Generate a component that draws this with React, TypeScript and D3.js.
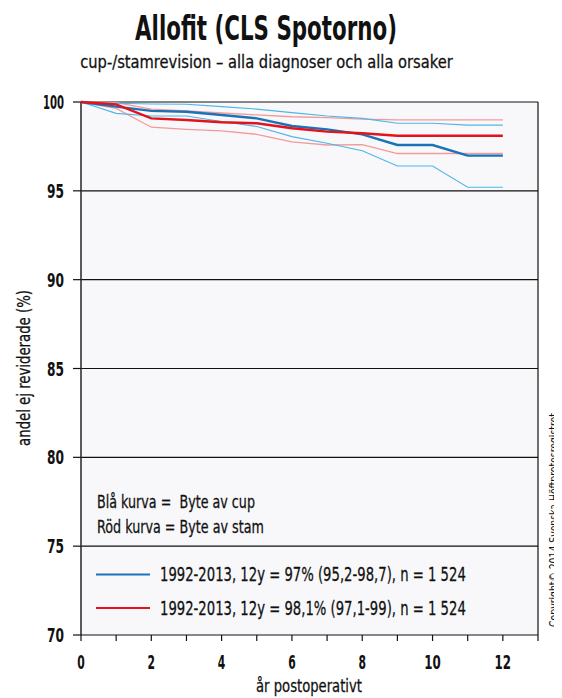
import React, { useEffect, useRef } from 'react';
import * as d3 from 'd3';

const years = [0, 1, 2, 3, 4, 5, 6, 7, 8, 9, 10, 11, 12];
const cupMain = [100, 99.74, 99.5, 99.45, 99.27, 99.08, 98.65, 98.46, 98.18, 97.58, 97.58, 96.98, 96.98];
const cupHigh = [100, 99.93, 99.89, 99.87, 99.74, 99.6, 99.4, 99.21, 99.08, 98.8, 98.8, 98.7, 98.7];
const cupLow = [100, 99.36, 99.21, 99.21, 98.9, 98.62, 98.05, 97.68, 97.26, 96.4, 96.4, 95.2, 95.2];
const stemMain = [100, 99.87, 99.08, 98.99, 98.86, 98.8, 98.52, 98.33, 98.24, 98.1, 98.1, 98.1, 98.1];
const stemHigh = [100, 99.97, 99.6, 99.5, 99.38, 99.27, 99.17, 99.12, 99.04, 98.99, 98.99, 98.99, 98.99];
const stemLow = [100, 99.64, 98.58, 98.46, 98.38, 98.18, 97.75, 97.58, 97.6, 97.1, 97.1, 97.1, 97.1];

const yTicks = [70, 75, 80, 85, 90, 95, 100];
const xLabels = [0, 2, 4, 6, 8, 10, 12];

const legendNotes = ['Blå kurva =  Byte av cup', 'Röd kurva = Byte av stam'];
const legendSeries = [
  { color: '#1a72b8', label: '1992-2013, 12y = 97% (95,2-98,7), n = 1 524' },
  { color: '#e3121b', label: '1992-2013, 12y = 98,1% (97,1-99), n = 1 524' },
];

const FONT = '"DejaVu Sans", sans-serif';

const App: React.FC = () => {
  const svgRef = useRef<SVGSVGElement>(null);

  useEffect(() => {
    if (!svgRef.current) return;
    const W = 562;
    const H = 698;
    const svg = d3.select(svgRef.current);
    svg.selectAll('*').remove();
    svg.attr('width', W).attr('height', H).style('font-family', FONT);

    const left = 81;
    const right = 538;
    const top = 102;
    const bottom = 635;

    const x = d3.scaleLinear().domain([0, 13]).range([left, right]);
    const y = d3.scaleLinear().domain([70, 100]).range([bottom, top]);

    // the original uses a condensed face: measure the text and squeeze it sideways
    const label = (
      g: d3.Selection<any, unknown, null, undefined>,
      s: string, tx: number, ty: number, size: number, len: number,
      anchor = 'start', weight = 'normal', stroke = true,
    ) => {
      const t = g.append('text')
        .attr('text-anchor', anchor)
        .attr('font-size', `${size}px`)
        .attr('font-weight', weight)
        .attr('fill', '#111')
        .attr('stroke', weight === 'normal' && stroke ? '#111' : 'none')
        .attr('stroke-width', 0.3)
        .style('white-space', 'pre')
        .text(s);
      const natural = (t.node() as SVGTextElement).getComputedTextLength() || len;
      t.attr('transform', `translate(${tx},${ty}) scale(${len / natural},1)`);
      return t;
    };

    svg.append('rect').attr('width', W).attr('height', H).attr('fill', '#ffffff');

    svg.append('rect')
      .attr('x', left).attr('y', top)
      .attr('width', right - left).attr('height', bottom - top)
      .attr('fill', '#f8f8fa');

    yTicks.filter((v) => v > 70).forEach((v) => {
      svg.append('line')
        .attr('x1', left).attr('x2', right)
        .attr('y1', y(v)).attr('y2', y(v))
        .attr('stroke', '#111').attr('stroke-width', 1.2);
    });

    svg.append('line').attr('x1', left).attr('x2', left).attr('y1', top).attr('y2', bottom)
      .attr('stroke', '#333').attr('stroke-width', 1.6);
    svg.append('line').attr('x1', right).attr('x2', right).attr('y1', top).attr('y2', bottom)
      .attr('stroke', '#111').attr('stroke-width', 1.2);
    svg.append('line').attr('x1', left).attr('x2', right).attr('y1', bottom).attr('y2', bottom)
      .attr('stroke', '#111').attr('stroke-width', 1.2);

    yTicks.forEach((v) => {
      svg.append('line').attr('x1', left - 8).attr('x2', left)
        .attr('y1', y(v)).attr('y2', y(v)).attr('stroke', '#111').attr('stroke-width', 1.2);
      label(svg, String(v), 64, y(v) + 7, 19, v === 100 ? 21 : 17, 'end', '600');
    });

    d3.range(0, 14).forEach((t) => {
      svg.append('line').attr('x1', x(t)).attr('x2', x(t))
        .attr('y1', bottom).attr('y2', bottom + 6).attr('stroke', '#111').attr('stroke-width', 1.2);
    });

    xLabels.forEach((t) => {
      label(svg, String(t), x(t), 669, 19.5, t >= 10 ? 16.5 : 7.5, 'middle', '600');
    });

    label(svg, 'år postoperativt', 309, 692, 18, 106, 'middle');

    const yl = svg.append('g').attr('transform', `translate(30, 368) rotate(-90)`);
    label(yl, 'andel ej reviderade (%)', 0, 0, 18, 156, 'middle');

    label(svg, 'Allofit (CLS Spotorno)', 266, 40, 34, 262, 'middle', 'bold');
    label(svg, 'cup-/stamrevision – alla diagnoser och alla orsaker', 266.5, 68, 18.5, 373, 'middle');

    const line = d3.line<number>()
      .x((_, i) => x(years[i]))
      .y((d) => y(d));

    const curves = [
      { data: stemHigh, color: '#f29a9a', width: 1.3 },
      { data: stemLow, color: '#f29a9a', width: 1.3 },
      { data: cupHigh, color: '#4db6e8', width: 1.1 },
      { data: cupLow, color: '#4db6e8', width: 1.1 },
      { data: cupMain, color: '#1a72b8', width: 2.4 },
      { data: stemMain, color: '#e3121b', width: 2.4 },
    ];
    curves.forEach((c) => {
      svg.append('path')
        .attr('d', line(c.data)!)
        .attr('fill', 'none')
        .attr('stroke', c.color)
        .attr('stroke-width', c.width);
    });

    label(svg, legendNotes[0], 97, 508, 18, 158);
    label(svg, legendNotes[1], 97, 533, 18, 167);

    legendSeries.forEach((s, i) => {
      const ly = 574.5 + i * 33.5;
      svg.append('line')
        .attr('x1', 96).attr('x2', 150)
        .attr('y1', ly).attr('y2', ly)
        .attr('stroke', s.color).attr('stroke-width', 1.8);
      label(svg, s.label, 160, ly + 6.5, 20, 306);
    });

    const cp = svg.append('g').attr('transform', `translate(557.5, 520) rotate(-90)`);
    label(cp, 'Copyright© 2014 Svenska Höftprotesregistret', 0, 0, 12, 214, 'middle', 'normal', false);
  }, []);

  return <svg ref={svgRef} style={{ display: 'block', marginTop: -8, marginLeft: -8 }} />;
};

export default App;
